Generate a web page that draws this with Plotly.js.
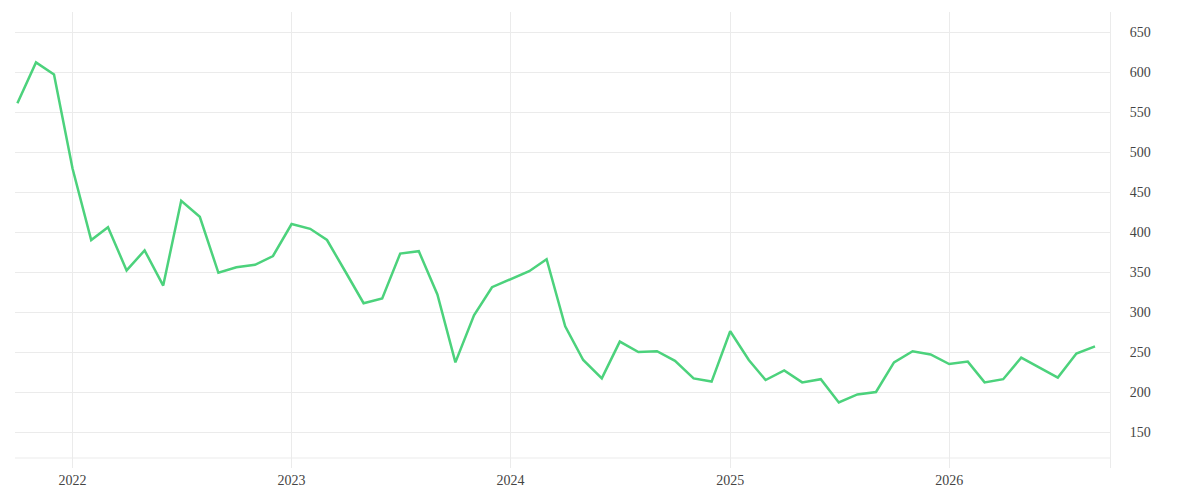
<!DOCTYPE html>
<html>
<head>
<meta charset="utf-8">
<script src="https://cdn.plot.ly/plotly-3.0.1.min.js"></script>
<style>
  html, body { margin: 0; padding: 0; background: #ffffff; }
  #chart { width: 1200px; height: 500px; }
</style>
</head>
<body>
<div id="chart"></div>
<script>
const FONT_FAMILY = "Liberation Serif, Times New Roman, serif";
const COLORS = {
  line: "#4cd27c",
  grid: "#ebebeb",
  text: "#444444",
};

// monthly readings, Oct 2021 .. Sep 2026
const months = [
  "2021-10-01", "2021-11-01", "2021-12-01",
  "2022-01-01", "2022-02-01", "2022-03-01", "2022-04-01", "2022-05-01", "2022-06-01",
  "2022-07-01", "2022-08-01", "2022-09-01", "2022-10-01", "2022-11-01", "2022-12-01",
  "2023-01-01", "2023-02-01", "2023-03-01", "2023-04-01", "2023-05-01", "2023-06-01",
  "2023-07-01", "2023-08-01", "2023-09-01", "2023-10-01", "2023-11-01", "2023-12-01",
  "2024-01-01", "2024-02-01", "2024-03-01", "2024-04-01", "2024-05-01", "2024-06-01",
  "2024-07-01", "2024-08-01", "2024-09-01", "2024-10-01", "2024-11-01", "2024-12-01",
  "2025-01-01", "2025-02-01", "2025-03-01", "2025-04-01", "2025-05-01", "2025-06-01",
  "2025-07-01", "2025-08-01", "2025-09-01", "2025-10-01", "2025-11-01", "2025-12-01",
  "2026-01-01", "2026-02-01", "2026-03-01", "2026-04-01", "2026-05-01", "2026-06-01",
  "2026-07-01", "2026-08-01", "2026-09-01",
];
const values = [
  561, 612, 597,
  479, 390, 406, 352, 377, 333,
  439, 419, 349, 356, 359, 370,
  410, 404, 390, 350, 311, 317,
  373, 376, 322, 237, 296, 331,
  341, 351, 366, 282, 240, 217,
  263, 250, 251, 239, 217, 213,
  276, 240, 215, 227, 212, 216,
  187, 197, 200, 237, 251, 247,
  235, 238, 212, 216, 243, 230,
  218, 248, 257,
];
const yTicks = [150, 200, 250, 300, 350, 400, 450, 500, 550, 600, 650];
const xTicks = ["2022-01-01", "2023-01-01", "2024-01-01", "2025-01-01", "2026-01-01"];
const xTickLabels = ["2022", "2023", "2024", "2025", "2026"];
const xRange = ["2021-09-27", "2026-09-26"];
const yRange = [105, 675];
const baseLine = 117.5;

const traces = [
  {
    x: months,
    y: values,
    type: "scatter",
    mode: "lines",
    line: { color: COLORS.line, width: 2.5 },
    hoverinfo: "x+y",
    showlegend: false,
  },
];

const layout = {
  width: 1200,
  height: 500,
  margin: { l: 15, r: 90, t: 12, b: 32 },
  paper_bgcolor: "#ffffff",
  plot_bgcolor: "#ffffff",
  font: { family: FONT_FAMILY, color: COLORS.text, size: 14 },
  showlegend: false,
  xaxis: {
    type: "date",
    range: xRange,
    tickmode: "array",
    tickvals: xTicks,
    ticktext: xTickLabels,
    showgrid: true,
    gridcolor: COLORS.grid,
    gridwidth: 1,
    zeroline: false,
    showline: false,
    ticks: "",
    ticklabelstandoff: 2,
  },
  yaxis: {
    side: "right",
    range: yRange,
    tickmode: "array",
    tickvals: yTicks,
    showgrid: true,
    gridcolor: COLORS.grid,
    gridwidth: 1,
    zeroline: false,
    showline: true,
    linecolor: COLORS.grid,
    linewidth: 1,
    ticks: "",
    ticklabelstandoff: 16,
  },
  shapes: [
    {
      type: "line",
      xref: "paper",
      yref: "y",
      x0: 0,
      x1: 1,
      y0: baseLine,
      y1: baseLine,
      line: { color: COLORS.grid, width: 1 },
      layer: "below",
    },
  ],
};

Plotly.newPlot("chart", traces, layout, { displayModeBar: false, staticPlot: true });
</script>
</body>
</html>
